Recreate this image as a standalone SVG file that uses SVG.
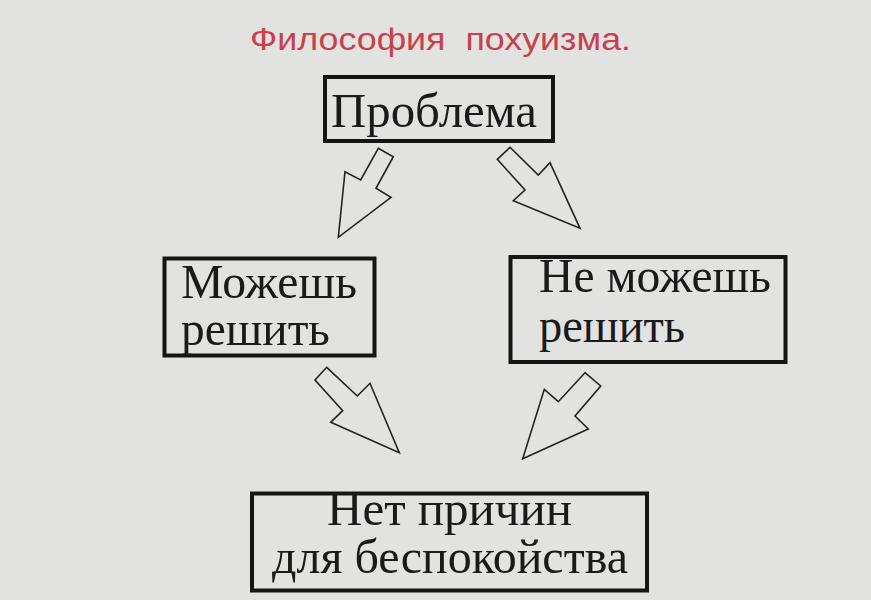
<svg xmlns="http://www.w3.org/2000/svg" width="871" height="600" viewBox="0 0 871 600">
  <style>
    .box { fill: none; stroke: #151515; stroke-width: 4; }
    .lbl { font-family: "Liberation Serif", "Times New Roman", serif; font-size: 49px; fill: #1a1a1a; }
    .arrow { fill: none; stroke: #222; stroke-width: 1.6; stroke-linejoin: miter; }
    .title { font-family: "Liberation Sans", Arial, sans-serif; font-size: 31px; fill: #c8404c; white-space: pre; }
  </style>
  <rect x="0" y="0" width="871" height="600" fill="#e2e3e1"/>
  <text class="title" x="250" y="50" textLength="381" lengthAdjust="spacingAndGlyphs" xml:space="preserve">Философия  похуизма.</text>

  <g id="problem">
    <rect class="box" x="325" y="77" width="228" height="64"/>
    <text class="lbl" x="331" y="127" font-size="53" textLength="206" lengthAdjust="spacingAndGlyphs">Проблема</text>
  </g>

  <g id="can">
    <rect class="box" x="164.5" y="258.5" width="210" height="97"/>
    <text class="lbl" x="181" y="298" textLength="176" lengthAdjust="spacingAndGlyphs">Можешь</text>
    <text class="lbl" x="181" y="345" textLength="149" lengthAdjust="spacingAndGlyphs">решить</text>
  </g>

  <g id="cannot">
    <rect class="box" x="510.5" y="257" width="275" height="105"/>
    <text class="lbl" x="539" y="292" textLength="232" lengthAdjust="spacingAndGlyphs">Не можешь</text>
    <text class="lbl" x="539" y="342" textLength="146" lengthAdjust="spacingAndGlyphs">решить</text>
  </g>

  <g id="noreason">
    <rect class="box" x="252" y="493.5" width="395" height="97"/>
    <text class="lbl" x="327" y="525" textLength="245" lengthAdjust="spacingAndGlyphs">Нет причин</text>
    <text class="lbl" x="272" y="573" textLength="356" lengthAdjust="spacingAndGlyphs">для беспокойства</text>
  </g>

  <g id="connectors">
    <polygon class="arrow" points="378.3,148.3 393.3,156.7 376,188.3 391,197.3 338.3,237.3 345,171.7 360.7,180"/>
    <polygon class="arrow" points="510,147.3 538.3,175 550,162.7 580,228.3 513.3,200.7 525,190 497.3,159.3"/>
    <polygon class="arrow" points="326.7,367.3 357.3,396 370,383.3 399.3,452.7 330.7,422.3 342.7,410.7 315,380"/>
    <polygon class="arrow" points="585,372.7 558.3,401.7 544.3,389.3 522.7,458.7 588.3,429 575,416 600.7,386"/>
  </g>
</svg>
